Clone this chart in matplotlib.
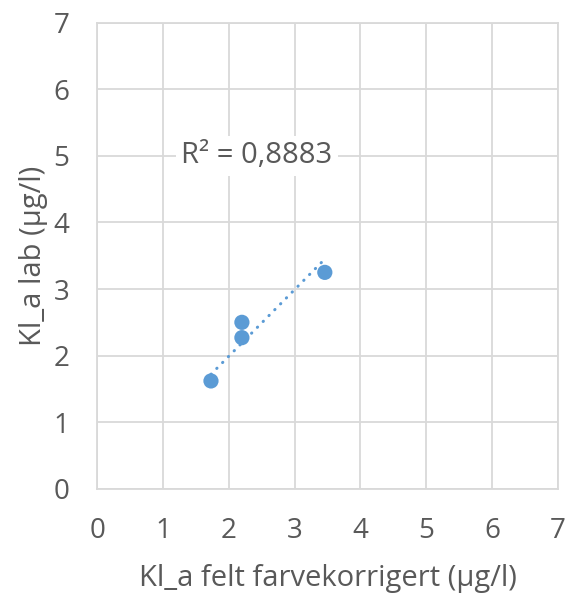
import numpy as np
import matplotlib
matplotlib.use("Agg")
import matplotlib.pyplot as plt

# values
felt_x = [1.73, 2.20, 2.20, 3.46]
lab_y = [1.62, 2.50, 2.27, 3.25]
trend_x = [1.73, 3.46]
trend_y = [1.72, 3.45]
r2_label = "R² = 0,8883"
ticks = list(range(0, 8))

plt.rcParams['font.family'] = ['Open Sans', 'DejaVu Sans']
text_col = '#595959'
blue = '#5B9BD5'

fig = plt.figure(figsize=(5.68, 5.94), dpi=100)
ax = fig.add_axes([0.171, 0.177, 0.811, 0.785])

ax.plot(trend_x, trend_y, color=blue, lw=2.2, linestyle=(0, (0.1, 2.6)),
        dash_capstyle='round', zorder=2)
ax.scatter(felt_x, lab_y, s=120, color=blue, edgecolors='none', zorder=3)

ax.set_xlim(0, 7)
ax.set_ylim(0, 7)
ax.set_xticks(ticks)
ax.set_yticks(ticks)
ax.grid(True, color='#D9D9D9', lw=1.3)
ax.set_axisbelow(True)
for s in ax.spines.values():
    s.set_color('#D9D9D9')
    s.set_linewidth(1.3)
ax.tick_params(length=0, labelsize=20, colors=text_col, pad=20)

ax.set_xlabel("Kl_a felt farvekorrigert (µg/l)", fontsize=21, color=text_col, labelpad=14)
ax.set_ylabel("Kl_a lab (µg/l)", fontsize=21, color=text_col, labelpad=4)

ax.text(2.43, 5.0, r2_label, fontsize=21, color=text_col, ha='center', va='center',
        bbox=dict(facecolor='white', edgecolor='none', pad=4), zorder=4)

fig.savefig("out.png", dpi=100)
